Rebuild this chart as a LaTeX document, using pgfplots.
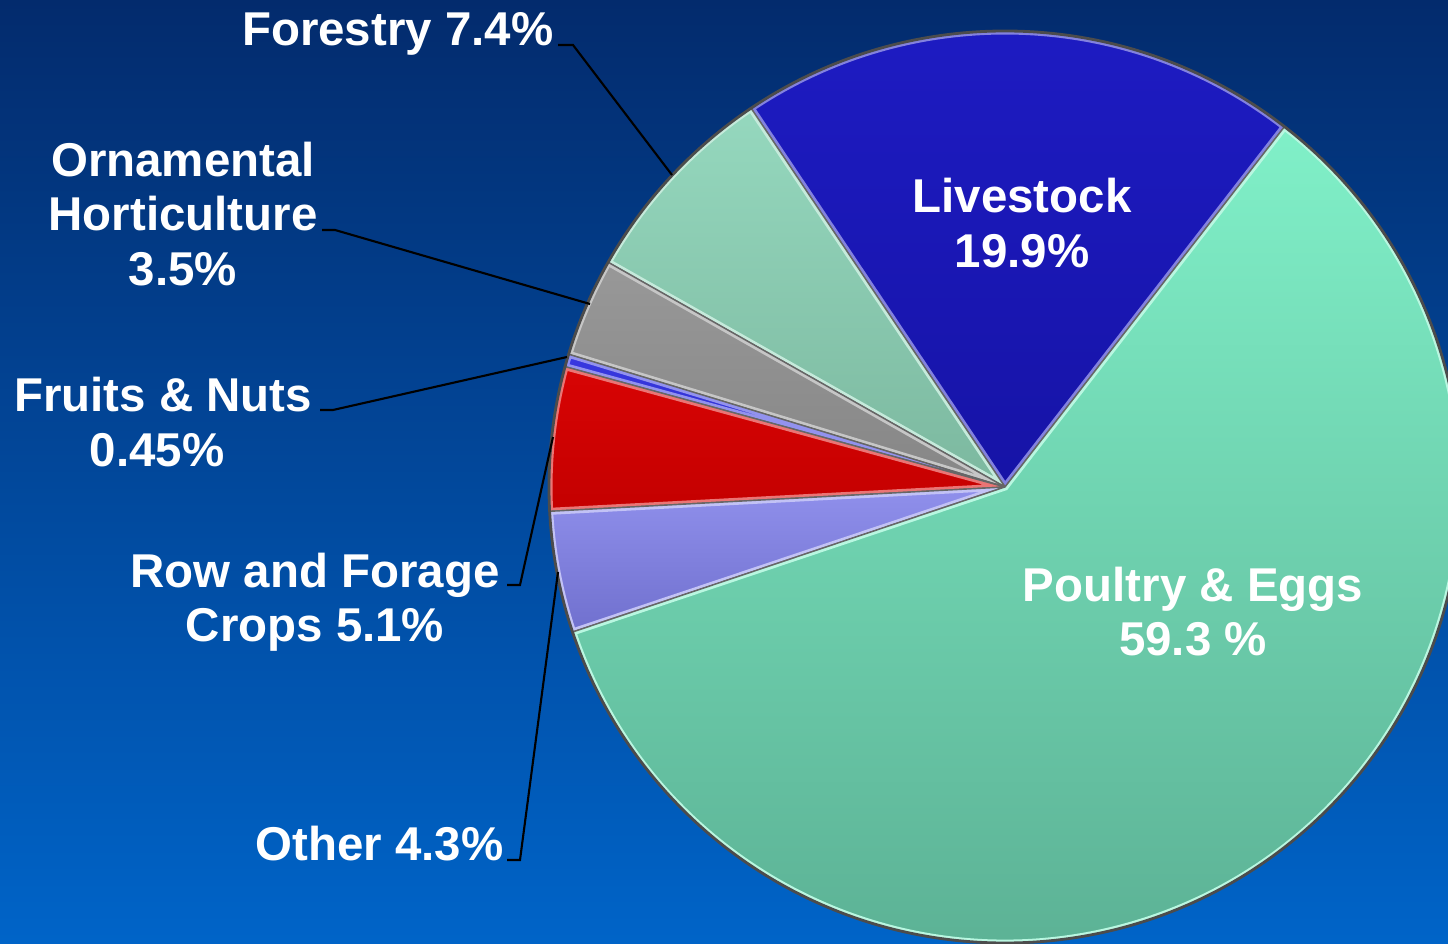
\documentclass[border=0pt]{standalone}
\usepackage{pgfplots}
\pgfplotsset{compat=1.18}
\usepackage{fontspec}
\setmainfont{Liberation Sans}

\definecolor{bgtop}{HTML}{032B6D}
\definecolor{bgbot}{HTML}{0064C8}
\definecolor{liveT}{HTML}{1E1CC4}  \definecolor{liveB}{HTML}{1613A6}
\definecolor{forT}{HTML}{95D8BE}   \definecolor{forB}{HTML}{7CB89F}
\definecolor{ornT}{HTML}{989898}   \definecolor{ornB}{HTML}{868686}
\definecolor{fruT}{HTML}{3838E0}   \definecolor{fruB}{HTML}{2C2CC8}
\definecolor{rowT}{HTML}{D80404}   \definecolor{rowB}{HTML}{C40000}
\definecolor{othT}{HTML}{9090EC}   \definecolor{othB}{HTML}{7070CE}
\definecolor{pouT}{HTML}{80F0C8}   \definecolor{pouB}{HTML}{5AAE92}

\tikzset{lbl/.style={text=white, font=\bfseries\fontsize{13.5}{15.6}\selectfont, inner sep=0pt}}

% pie: centre and radius in picture units (1 unit = 1 px of the reference)
\def\cx{1005}
\def\cy{456}
\def\rr{456}

% one slice: start angle, end angle, top colour, bottom colour
\newcommand\pieslice[4]{%
  \begin{scope}
    \path[clip] (axis cs:\cx,\cy) -- (axis cs:{\cx+\rr*cos(#1)},{\cy+\rr*sin(#1)})
      arc[start angle=#1, end angle=#2, radius=\rr] -- cycle;
    \fill[top color=#3, bottom color=#4] (axis cs:\cx,\cy) -- (axis cs:{\cx+\rr*cos(#1)},{\cy+\rr*sin(#1)})
      arc[start angle=#1, end angle=#2, radius=\rr] -- cycle;
    \draw[#3!55!white, line width=2pt] (axis cs:\cx,\cy) -- (axis cs:{\cx+\rr*cos(#1)},{\cy+\rr*sin(#1)})
      arc[start angle=#1, end angle=#2, radius=\rr] -- cycle;
  \end{scope}
  \draw[black!60, line width=0.4pt] (axis cs:\cx,\cy) -- (axis cs:{\cx+\rr*cos(#1)},{\cy+\rr*sin(#1)})
    arc[start angle=#1, end angle=#2, radius=\rr] -- cycle;
}

\begin{document}
\begin{tikzpicture}
% shares in percent, counter-clockwise from the Livestock slice
\pgfmathsetmacro\aA{52.2}
\pgfmathsetmacro\aB{\aA+3.6*19.9}  % Livestock
\pgfmathsetmacro\aC{\aB+3.6*7.4}   % Forestry
\pgfmathsetmacro\aD{\aC+3.6*3.5}   % Ornamental Horticulture
\pgfmathsetmacro\aE{\aD+3.6*0.45}  % Fruits & Nuts
\pgfmathsetmacro\aF{\aE+3.6*5.1}   % Row and Forage Crops
\pgfmathsetmacro\aG{\aF+3.6*4.3}   % Other
\pgfmathsetmacro\aH{\aA+360}       % Poultry & Eggs closes the pie
\useasboundingbox (0,0) rectangle (14.48cm,9.43cm);
\shade[top color=bgtop, bottom color=bgbot] (0,0) rectangle (14.48cm,9.43cm);
\begin{axis}[
    at={(0,0)}, anchor=south west,
    scale only axis, width=14.48cm, height=9.43cm,
    xmin=0, xmax=1448, ymin=0, ymax=943,
    hide axis, clip=true,
]
\pieslice{\aA}{\aB}{liveT}{liveB}
\pieslice{\aB}{\aC}{forT}{forB}
\pieslice{\aC}{\aD}{ornT}{ornB}
\pieslice{\aD}{\aE}{fruT}{fruB}
\pieslice{\aE}{\aF}{rowT}{rowB}
\pieslice{\aF}{\aG}{othT}{othB}
\pieslice{\aG}{\aH}{pouT}{pouB}
\draw[black!70, line width=0.8pt] (axis cs:\cx,\cy) circle[radius=\rr];

% leader lines
\addplot[black, line width=0.6pt] coordinates {(558,898) (573,898) (672,768)};
\addplot[black, line width=0.6pt] coordinates {(322,713) (335,713) (590,639)};
\addplot[black, line width=0.6pt] coordinates {(320,533) (333,533) (567,586)};
\addplot[black, line width=0.6pt] coordinates {(507,358) (520,358) (553,506)};
\addplot[black, line width=0.6pt] coordinates {(507,83) (520,83) (558,371)};

% labels
\node[lbl, anchor=base east] at (axis cs:554,897) {Forestry 7.4\%};
\node[lbl, anchor=base] at (axis cs:183,766) {Ornamental};
\node[lbl, anchor=base] at (axis cs:183,712) {Horticulture};
\node[lbl, anchor=base] at (axis cs:183,657) {3.5\%};
\node[lbl, anchor=base] at (axis cs:163,531) {Fruits \& Nuts};
\node[lbl, anchor=base] at (axis cs:157,476) {0.45\%};
\node[lbl, anchor=base] at (axis cs:315,355) {Row and Forage};
\node[lbl, anchor=base] at (axis cs:315,301) {Crops 5.1\%};
\node[lbl, anchor=base east] at (axis cs:504,83) {Other 4.3\%};
\node[lbl, anchor=base] at (axis cs:1022,730) {Livestock};
\node[lbl, anchor=base] at (axis cs:1022,675) {19.9\%};
\node[lbl, anchor=base] at (axis cs:1193,341) {Poultry \& Eggs};
\node[lbl, anchor=base] at (axis cs:1193,287) {59.3 \%};
\end{axis}
\end{tikzpicture}
\end{document}
